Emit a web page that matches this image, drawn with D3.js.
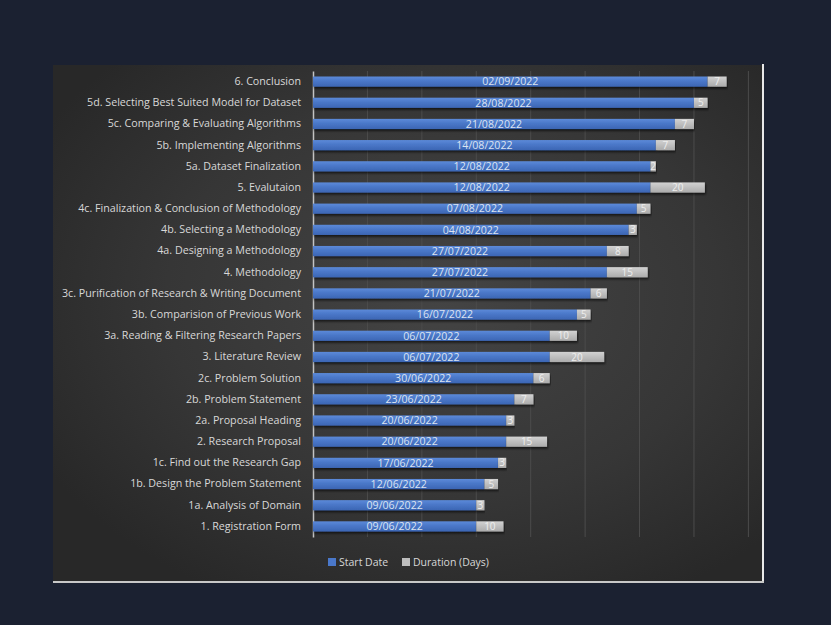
<!DOCTYPE html>
<html>
<head>
<meta charset="utf-8">
<script src="https://cdn.jsdelivr.net/npm/d3@7"></script>
<style>
  html, body { margin: 0; padding: 0; background: #1b2131; }
  svg { display: block; }
</style>
</head>
<body>
<svg id="chart" width="831" height="625"></svg>
<script>
// Project schedule: task, start date and duration in days
const tasks = [
  "6. Conclusion",
  "5d. Selecting Best Suited Model for Dataset",
  "5c. Comparing & Evaluating Algorithms",
  "5b. Implementing Algorithms",
  "5a. Dataset Finalization",
  "5. Evalutaion",
  "4c. Finalization & Conclusion of Methodology",
  "4b. Selecting a Methodology",
  "4a. Designing a Methodology",
  "4. Methodology",
  "3c. Purification of Research & Writing Document",
  "3b. Comparision of Previous Work",
  "3a. Reading & Filtering Research Papers",
  "3. Literature Review",
  "2c. Problem Solution",
  "2b. Problem Statement",
  "2a. Proposal Heading",
  "2. Research Proposal",
  "1c. Find out the Research Gap",
  "1b. Design the Problem Statement",
  "1a. Analysis of Domain",
  "1. Registration Form"
];
const startDates = [
  "02/09/2022", "28/08/2022", "21/08/2022", "14/08/2022", "12/08/2022",
  "12/08/2022", "07/08/2022", "04/08/2022", "27/07/2022", "27/07/2022",
  "21/07/2022", "16/07/2022", "06/07/2022", "06/07/2022", "30/06/2022",
  "23/06/2022", "20/06/2022", "20/06/2022", "17/06/2022", "12/06/2022",
  "09/06/2022", "09/06/2022"
];
const durations = [7, 5, 7, 7, 2, 20, 5, 3, 8, 15, 6, 5, 10, 20, 6, 7, 3, 15, 3, 5, 3, 10];
const axisStart = "10/04/2022";
const axisEnd = "22/09/2022";
const tickStepDays = 20;
const seriesNames = ["Start Date", "Duration (Days)"];

const parse = d3.timeParse("%d/%m/%Y");
const DAY = 86400000;
const rows = tasks.map((t, i) => {
  const s = parse(startDates[i]);
  return { task: t, label: startDates[i], start: s, dur: durations[i],
           end: new Date(s.getTime() + durations[i] * DAY) };
});

const svg = d3.select("#chart");
const defs = svg.append("defs");

// panel background: dark grey with a soft vignette
const bg = defs.append("radialGradient").attr("id", "panelBg")
  .attr("cx", "55%").attr("cy", "45%").attr("r", "65%");
bg.append("stop").attr("offset", "0%").attr("stop-color", "#444444");
bg.append("stop").attr("offset", "60%").attr("stop-color", "#363636");
bg.append("stop").attr("offset", "100%").attr("stop-color", "#282828");

const blueG = defs.append("linearGradient").attr("id", "blueBar")
  .attr("x1", 0).attr("y1", 0).attr("x2", 0).attr("y2", 1);
blueG.append("stop").attr("offset", "0%").attr("stop-color", "#5c8ad9");
blueG.append("stop").attr("offset", "45%").attr("stop-color", "#4a77c8");
blueG.append("stop").attr("offset", "100%").attr("stop-color", "#3c66b4");

const greyG = defs.append("linearGradient").attr("id", "greyBar")
  .attr("x1", 0).attr("y1", 0).attr("x2", 0).attr("y2", 1);
greyG.append("stop").attr("offset", "0%").attr("stop-color", "#d2d2d2");
greyG.append("stop").attr("offset", "100%").attr("stop-color", "#ababab");

const shadow = defs.append("filter").attr("id", "barShadow")
  .attr("x", "-5%").attr("y", "-40%").attr("width", "110%").attr("height", "200%");
shadow.append("feDropShadow").attr("dx", 1).attr("dy", 2).attr("stdDeviation", 1)
  .attr("flood-color", "#000").attr("flood-opacity", 0.6);

const panel = { x: 53, y: 65, w: 710, h: 517 };
svg.append("rect").attr("x", panel.x).attr("y", panel.y)
  .attr("width", panel.w).attr("height", panel.h).attr("fill", "url(#panelBg)");
// right and bottom light frame edges
svg.append("line").attr("x1", panel.x + panel.w).attr("x2", panel.x + panel.w)
  .attr("y1", panel.y - 1).attr("y2", panel.y + panel.h + 1)
  .attr("stroke", "#e8e8e8").attr("stroke-width", 2);
svg.append("line").attr("x1", panel.x).attr("x2", panel.x + panel.w + 1)
  .attr("y1", panel.y + panel.h).attr("y2", panel.y + panel.h)
  .attr("stroke", "#c8c8c8").attr("stroke-width", 2);

const x = d3.scaleTime().domain([parse(axisStart), parse(axisEnd)]).range([313, 762]);
const y = d3.scaleBand().domain(tasks).range([71, 537]).paddingInner(0.52).paddingOuter(0.26);

// vertical gridlines every 20 days
const tickDates = d3.range(1, 9).map(k => new Date(parse(axisStart).getTime() + k * tickStepDays * DAY));
svg.append("g").selectAll("line").data(tickDates).join("line")
  .attr("x1", d => x(d)).attr("x2", d => x(d))
  .attr("y1", 71).attr("y2", 537)
  .attr("stroke", "#4c4c4c").attr("stroke-width", 1);

const font = "'Open Sans', sans-serif";

// category axis
const yAxis = svg.append("g").attr("transform", "translate(313,0)")
  .call(d3.axisLeft(y).tickSize(0).tickPadding(12));
yAxis.select(".domain").attr("stroke", "#c4c4c4").attr("stroke-width", 1.5);
yAxis.selectAll("text").attr("fill", "#d8d8d8").style("font-family", font)
  .style("font-size", "10.7px");

// bars
const g = svg.append("g");
g.selectAll("rect.start").data(rows).join("rect").attr("class", "start")
  .attr("x", x.range()[0]).attr("y", d => y(d.task))
  .attr("width", d => x(d.start) - x.range()[0]).attr("height", y.bandwidth())
  .attr("fill", "url(#blueBar)").attr("filter", "url(#barShadow)");
g.selectAll("rect.dur").data(rows).join("rect").attr("class", "dur")
  .attr("x", d => x(d.start)).attr("y", d => y(d.task))
  .attr("width", d => x(d.end) - x(d.start)).attr("height", y.bandwidth())
  .attr("fill", "url(#greyBar)").attr("filter", "url(#barShadow)");

// value labels
g.selectAll("text.sl").data(rows).join("text").attr("class", "sl")
  .attr("x", d => (x.range()[0] + x(d.start)) / 2)
  .attr("y", d => y(d.task) + y.bandwidth() / 2)
  .attr("dy", "0.36em").attr("text-anchor", "middle")
  .attr("fill", "#dce4f2").style("font-family", font).style("font-size", "10.6px")
  .text(d => d.label);
g.selectAll("text.dl").data(rows).join("text").attr("class", "dl")
  .attr("x", d => (x(d.start) + x(d.end)) / 2)
  .attr("y", d => y(d.task) + y.bandwidth() / 2)
  .attr("dy", "0.36em").attr("text-anchor", "middle")
  .attr("fill", "#eeeeee").style("font-family", font).style("font-size", "10px")
  .text(d => d.dur);

// legend
const legend = svg.append("g").attr("transform", "translate(328,562)");
const items = [
  { name: seriesNames[0], fill: "#4a78ca", dx: 0 },
  { name: seriesNames[1], fill: "#bdbdbd", dx: 74 }
];
const li = legend.selectAll("g").data(items).join("g")
  .attr("transform", d => `translate(${d.dx},0)`);
li.append("rect").attr("x", 0).attr("y", -4).attr("width", 8).attr("height", 8)
  .attr("fill", d => d.fill);
li.append("text").attr("x", 11).attr("y", 0).attr("dy", "0.35em")
  .attr("fill", "#d8d8d8").style("font-family", font).style("font-size", "10.5px")
  .text(d => d.name);
</script>
</body>
</html>
